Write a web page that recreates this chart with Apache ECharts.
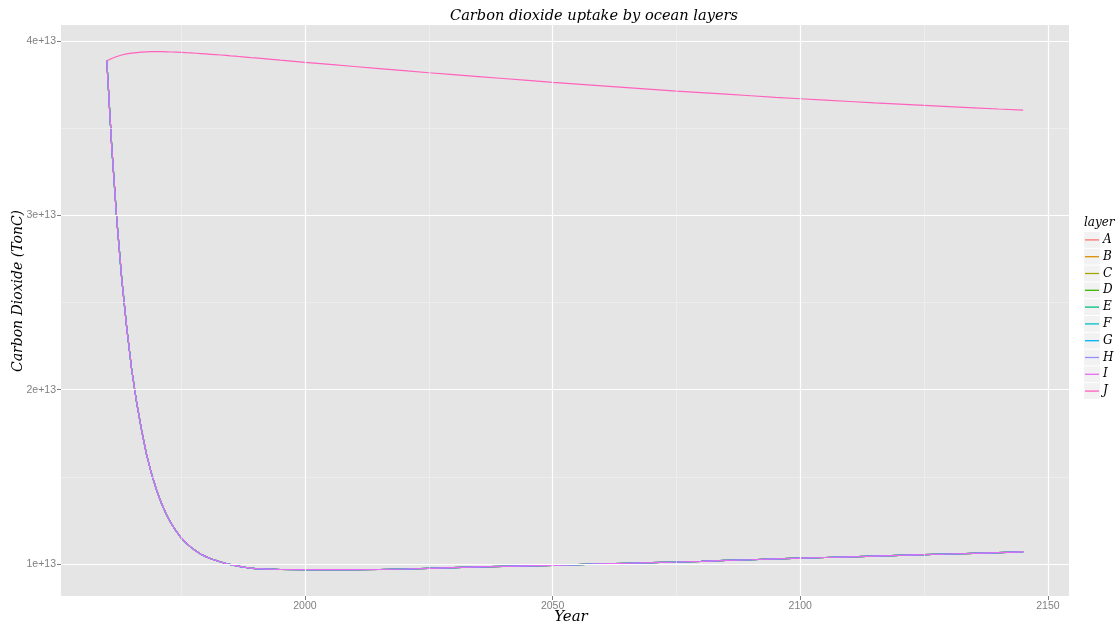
<!DOCTYPE html>
<html>
<head>
<meta charset="utf-8">
<script src="https://cdn.jsdelivr.net/npm/echarts@6/dist/echarts.min.js"></script>
<style>html,body{margin:0;padding:0;background:#fff}#c{width:1117px;height:626px}</style>
</head>
<body>
<div id="c"></div>
<script>
const layerNames = ['A','B','C','D','E','F','G','H','I','J'];
const layerColors = ['#F8766D','#D89000','#A3A500','#39B600','#00BF7D','#00BFC4','#00B0F6','#9590FF','#E76BF3','#FF62BC'];
const years = [1960,1961,1962,1963,1964,1965,1966,1967,1968,1969,1970,1971,1972,1973,1974,1975,1976,1977,1978,1979,1980,1981,1982,1983,1984,1985,1986,1987,1988,1989,1990,
  1995,2000,2005,2010,2015,2020,2025,2030,2035,2040,2045,2050,2055,2060,2065,2070,2075,2080,2085,2090,2095,2100,2105,2110,2115,2120,2125,2130,2135,2140,2145];
// layers A..I overlap (values in units of 1e13 TonC)
const layersAtoI = [3.887,3.39,2.98,2.64,2.36,2.12,1.93,1.77,1.63,1.52,1.427,1.35,1.285,1.232,1.188,1.15,1.12,1.095,1.074,1.056,1.042,1.03,1.02,1.011,1.003,0.996,0.99,0.985,0.98,0.976,0.973,
  0.968,0.967,0.967,0.967,0.968,0.971,0.975,0.979,0.983,0.986,0.989,0.992,0.996,1.000,1.004,1.008,1.011,1.015,1.020,1.024,1.029,1.033,1.037,1.041,1.045,1.049,1.053,1.057,1.061,1.065,1.069];
const layerJ = [3.887,3.900,3.911,3.920,3.926,3.931,3.934,3.936,3.938,3.939,3.939,3.939,3.938,3.937,3.936,3.935,3.933,3.932,3.930,3.928,3.926,3.924,3.922,3.920,3.918,3.915,3.913,3.910,3.908,3.905,3.903,
  3.890,3.878,3.866,3.854,3.842,3.830,3.818,3.807,3.796,3.785,3.774,3.763,3.753,3.743,3.733,3.723,3.713,3.704,3.695,3.686,3.677,3.669,3.661,3.653,3.645,3.638,3.631,3.624,3.617,3.610,3.604];
const UNIT = 1e13;
const xTicks = [2000, 2050, 2100, 2150];
const xMinor = [1975, 2025, 2075, 2125];
const yTicks = [1e13, 2e13, 3e13, 4e13];
const yMinor = [1.5e13, 2.5e13, 3.5e13];

const chart = echarts.init(document.getElementById('c'), null, {renderer: 'canvas'});
const serif = '"DejaVu Serif", serif';
const gridTop = 25, gridBottom = 30, gridLeft = 61, gridRight = 48;

const series = layerNames.map((n, i) => {
  const vals = n === 'J' ? layerJ : layersAtoI;
  return {
    name: n, type: 'line', showSymbol: false, symbol: 'none', z: 3,
    data: years.map((y, k) => [y, vals[k] * UNIT]),
    lineStyle: {color: layerColors[i], width: 1.2},
    itemStyle: {color: layerColors[i]},
    animation: false, silent: true
  };
});
const major = {color: '#FFFFFF', width: 1.2, type: 'solid'};
const minor = {color: '#F2F2F2', width: 0.6, type: 'solid'};
series.unshift({
  name: '_grid', type: 'line', data: [], z: 1, silent: true, animation: false,
  markLine: {
    silent: true, symbol: ['none', 'none'], label: {show: false}, animation: false,
    data: [].concat(
      xMinor.map(v => ({xAxis: v, lineStyle: minor})),
      yMinor.map(v => ({yAxis: v, lineStyle: minor})),
      xTicks.map(v => ({xAxis: v, lineStyle: major})),
      yTicks.map(v => ({yAxis: v, lineStyle: major}))
    )
  }
});

const legendTop = 232, rowH = 16.8;
const keyRects = layerNames.map((n, i) => ({
  type: 'rect', silent: true, z: -1,
  shape: {x: 1084, y: legendTop + i * rowH, width: 16, height: rowH - 1},
  style: {fill: '#F2F2F2'}
}));

chart.setOption({
  animation: false,
  grid: {left: gridLeft, right: gridRight, top: gridTop, bottom: gridBottom, show: true, backgroundColor: '#E5E5E5', borderWidth: 0, containLabel: false},
  xAxis: {
    type: 'value', min: 1950.75, max: 2154.25,
    axisLine: {show: false},
    axisTick: {show: true, length: 4, lineStyle: {color: '#7F7F7F', width: 1}, customValues: xTicks},
    axisLabel: {color: '#7F7F7F', fontSize: 10.5, fontFamily: 'Liberation Sans, Arial, sans-serif', margin: 5, customValues: xTicks, formatter: v => String(v)},
    splitLine: {show: false}, minorSplitLine: {show: false}
  },
  yAxis: {
    type: 'value', min: 0.816e13, max: 4.092e13,
    axisLine: {show: false},
    axisTick: {show: true, length: 4, lineStyle: {color: '#7F7F7F', width: 1}, customValues: yTicks},
    axisLabel: {color: '#7F7F7F', fontSize: 10.5, fontFamily: 'Liberation Sans, Arial, sans-serif', margin: 5, customValues: yTicks, formatter: v => Math.round(v / 1e13) + 'e+13'},
    splitLine: {show: false}, minorSplitLine: {show: false}
  },
  legend: {
    data: layerNames, orient: 'vertical', left: 1085, top: legendTop - 0.5,
    icon: 'rect', itemWidth: 14, itemHeight: 1.3, itemGap: 0,
    textStyle: {fontFamily: serif, fontStyle: 'italic', fontSize: 12, color: '#000', lineHeight: rowH, padding: [0, 0, 0, -1]},
    selectedMode: false, padding: 0
  },
  graphic: keyRects.concat([
    {type: 'text', x: 594, y: 16, silent: true, style: {text: 'Carbon dioxide uptake by ocean layers', font: 'italic 14.6px ' + serif, fill: '#000', align: 'center', verticalAlign: 'middle'}},
    {type: 'text', x: 571, y: 617, silent: true, style: {text: 'Year', font: 'italic 15px ' + serif, fill: '#000', align: 'center', verticalAlign: 'middle'}},
    {type: 'text', x: 18, y: 291, rotation: Math.PI / 2, silent: true, style: {text: 'Carbon Dioxide (TonC)', font: 'italic 14px ' + serif, fill: '#000', align: 'center', verticalAlign: 'middle'}},
    {type: 'text', x: 1084, y: 223, silent: true, style: {text: 'layer', font: 'italic 12px ' + serif, fill: '#000', align: 'left', verticalAlign: 'middle'}}
  ]),
  series: series
});
</script>
</body>
</html>
